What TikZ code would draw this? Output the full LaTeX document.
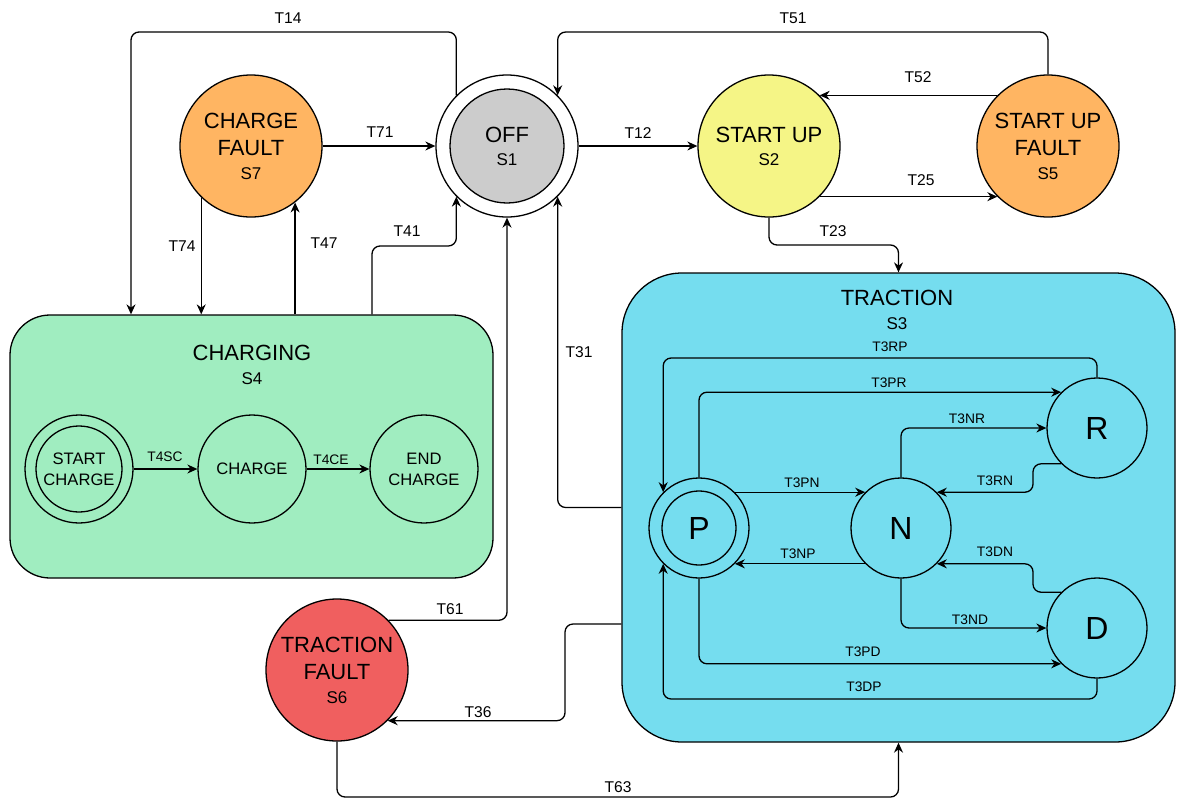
\documentclass[tikz,border=0pt]{standalone}
\usepackage{fontspec}
\setmainfont{Liberation Sans}
\usetikzlibrary{arrows.meta}
\definecolor{OffGrey}{HTML}{CCCCCC}
\definecolor{StartYellow}{HTML}{F5F586}
\definecolor{FaultOrange}{HTML}{FFB562}
\definecolor{FaultRed}{HTML}{F05F5F}
\definecolor{ChargeGreen}{HTML}{A0EDC0}
\definecolor{TractionBlue}{HTML}{75DDEF}
\newcommand{\bigtxt}{\fontsize{11}{13.5}\selectfont}
\newcommand{\subtxt}{\fontsize{8.5}{10}\selectfont}
\newcommand{\labtxt}{\fontsize{7.8}{9}\selectfont}
\newcommand{\smalltxt}{\fontsize{6.9}{8}\selectfont}
\newcommand{\inntxt}{\fontsize{8.3}{10.5}\selectfont}
\newcommand{\geartxt}{\fontsize{16}{18}\selectfont}
\tikzset{
  state/.style={circle,draw,line width=0.65pt,minimum size=71pt,inner sep=0pt,
    align=center,font=\bigtxt},
  inner/.style={circle,draw,line width=0.65pt,minimum size=54pt,inner sep=0pt,
    align=center,font=\inntxt,fill=ChargeGreen},
  gear/.style={circle,draw,line width=0.65pt,minimum size=50pt,inner sep=0pt,
    font=\geartxt,fill=TractionBlue},
  super/.style={draw,line width=0.65pt,inner sep=0pt},
  title/.style={align=center,font=\bigtxt,inner sep=0pt},
  arrow/.style={-{Stealth[length=5pt,width=4.5pt]},line width=0.65pt,rounded corners=4pt},
  lab/.style={font=\labtxt,inner sep=0pt},
  tlab/.style={font=\smalltxt,inner sep=0pt}
}

\begin{document}
\begin{tikzpicture}[x=0.5pt,y=-0.5pt]
  \useasboundingbox (0,0) rectangle (1182,798);
  % super states
  \node[super,fill=ChargeGreen,rounded corners=20pt,minimum width=241.5pt,minimum height=131.5pt] (s4) at (251.5,446.5) {};
  \node[super,fill=TractionBlue,rounded corners=30pt,minimum width=276.5pt,minimum height=234.5pt] (s3) at (898.5,507.5) {};
  \node[title] (s4t) at (252,365) {CHARGING\\[-1.5pt]{\subtxt S4}};
  \node[title] (s3t) at (897,310) {TRACTION\\[-1.5pt]{\subtxt S3}};
  % top level states
  \node[state,fill=FaultOrange] (s7) at (251,146) {CHARGE\\FAULT\\[-1.5pt]{\subtxt S7}};
  \node[state,fill=white] (s1) at (507,146) {};
  \node[state,fill=OffGrey,minimum size=57pt] (s1in) at (s1) {OFF\\[-2pt]{\subtxt S1}};
  \node[state,fill=StartYellow] (s2) at (769,146) {START UP\\[-2pt]{\subtxt S2}};
  \node[state,fill=FaultOrange] (s5) at (1048,146) {START UP\\FAULT\\[-1.5pt]{\subtxt S5}};
  \node[state,fill=FaultRed] (s6) at (337,670) {TRACTION\\FAULT\\[-1.5pt]{\subtxt S6}};
  % charging states
  \node[inner] (sc) at (79,469) {};
  \node[inner,minimum size=43pt] (scin) at (sc) {START\\CHARGE};
  \node[inner] (ch) at (252,469) {CHARGE};
  \node[inner] (ec) at (424,469) {END\\CHARGE};
  % traction states
  \node[gear] (p) at (699,528) {};
  \node[gear,minimum size=37pt] (pin) at (p) {P};
  \node[gear] (n) at (901,528) {N};
  \node[gear] (r) at (1097,428) {R};
  \node[gear] (d) at (1097,628) {D};

  % top level transitions
  \draw[arrow] (s1.135) |- (131,32) -- (131,0 |- s4.north);
  \draw[arrow] (s7.-134) -- (s7.-134 |- s4.north);
  \draw[arrow] (s4.north -| s7.-52) -- (s7.-52);
  \draw[arrow] (s4.north -| 372,0) |- (s1.225 |- 0,246) -- (s1.225);
  \draw[arrow] (s7.east) -- (s1.west);
  \draw[arrow] (s1.east) -- (s2.west);
  \draw[arrow] (s5.135) -- (s2.45);
  \draw[arrow] (s2.-45) -- (s5.-135);
  \draw[arrow] (s5.north) |- (s1.45 |- 0,32) -- (s1.45);
  \draw[arrow] (s2.south) |- (s3.north |- 0,245) -- (s3.north);
  \draw[arrow] (s3.west) -| (s1.-45);
  \draw[arrow] (s6.44) -| (s1.south);
  \draw[arrow] (s3.west |- 0,624) -| (s6.-45 -| 565,0) -- (s6.-45);
  \draw[arrow] (s6.south) |- (s3.south |- 0,797) -- (s3.south);
  % charging transitions
  \draw[arrow] (sc.east) -- (ch.west);
  \draw[arrow] (ch.east) -- (ec.west);
  % traction transitions
  \draw[arrow] (r.north) |- (p.135 |- 0,358) -- (p.135);
  \draw[arrow] (p.north) |- (r.135);
  \draw[arrow] (n.north) |- (r.west);
  \draw[arrow] (r.-135) -| (n.45 -| 1033,0) -- (n.45);
  \draw[arrow] (p.45) -- (n.135);
  \draw[arrow] (n.-135) -- (p.-45);
  \draw[arrow] (d.135) -| (n.-45 -| 1033,0) -- (n.-45);
  \draw[arrow] (n.south) |- (d.west);
  \draw[arrow] (p.south) |- (d.-135);
  \draw[arrow] (d.south) |- (p.-135 |- 0,699) -- (p.-135);

  % labels
  \node[lab] (l14) at (288,18) {T14};
  \node[lab] (l51) at (793,18) {T51};
  \node[lab] (l71) at (380,132) {T71};
  \node[lab] (l12) at (638,133) {T12};
  \node[lab] (l52) at (918,77) {T52};
  \node[lab] (l25) at (921,180) {T25};
  \node[lab] (l74) at (182,246) {T74};
  \node[lab] (l47) at (324,243) {T47};
  \node[lab] (l41) at (407,231) {T41};
  \node[lab] (l23) at (833,231) {T23};
  \node[lab] (l31) at (579,352) {T31};
  \node[lab] (l61) at (450,609) {T61};
  \node[lab] (l36) at (478,712) {T36};
  \node[lab] (l63) at (618,787) {T63};
  \node[tlab] (l4sc) at (165,457) {T4SC};
  \node[tlab] (l4ce) at (331,460) {T4CE};
  \node[tlab] (l3rp) at (890,347) {T3RP};
  \node[tlab] (l3pr) at (889,383) {T3PR};
  \node[tlab] (l3nr) at (967,419) {T3NR};
  \node[tlab] (l3rn) at (995,481) {T3RN};
  \node[tlab] (l3pn) at (802,483) {T3PN};
  \node[tlab] (l3np) at (798,554) {T3NP};
  \node[tlab] (l3dn) at (995,552) {T3DN};
  \node[tlab] (l3nd) at (970,620) {T3ND};
  \node[tlab] (l3pd) at (863,652) {T3PD};
  \node[tlab] (l3dp) at (864,687) {T3DP};
\end{tikzpicture}
\end{document}
